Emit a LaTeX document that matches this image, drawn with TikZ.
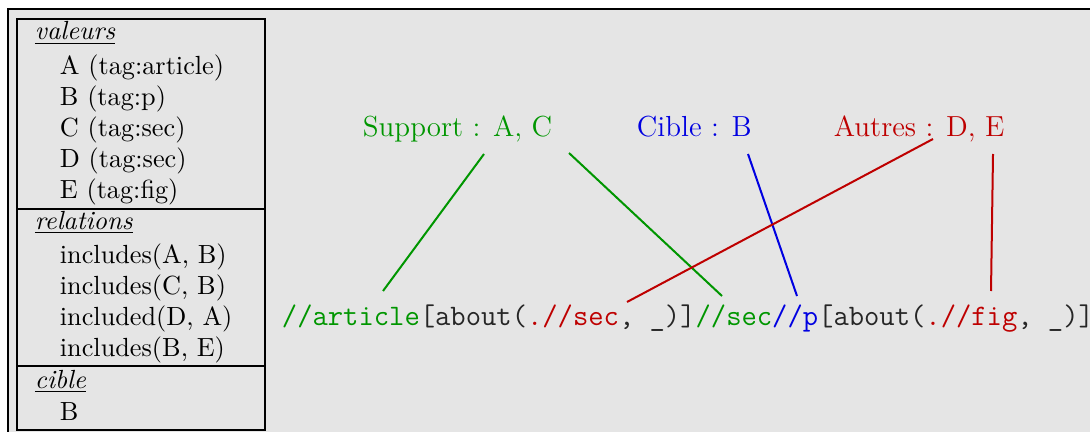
\documentclass[tikz,border=0pt]{standalone}
\usepackage{tikz}
\usetikzlibrary{positioning}
\definecolor{vert}{RGB}{0,150,0}
\definecolor{rouge}{RGB}{190,0,0}
\definecolor{bleu}{RGB}{0,0,225}
\tikzset{every picture/.style={line width=0.75pt}}

\begin{document}
\begin{tikzpicture}[x=0.4pt,y=-0.4pt,
    tete/.style={anchor=base west,inner sep=0pt,font=\fontsize{10.5}{12}\selectfont},
    item/.style={anchor=base west,inner sep=0pt,font=\fontsize{10.5}{12}\selectfont},
    etiq/.style={anchor=base west,inner sep=0pt,font=\fontsize{11.6}{14}\selectfont},
    code/.style={anchor=base west,inner sep=0pt,font=\fontsize{11.9}{14}\selectfont\ttfamily},
    lien/.style={line width=0.8pt}]
    \useasboundingbox (0,0) rectangle (1090,432);

    % fond et cadre
    \fill[black!10] (8,9) rectangle (1090,432);
    \draw[line width=0.5pt] (8,432) -- (8,9) -- (1090,9);

    % tableau de gauche
    \draw[line width=0.9pt] (17,19) rectangle (265,430);
    \draw[line width=0.9pt] (17,209) -- (265,209);
    \draw[line width=0.9pt] (17,366) -- (265,366);

    \node[tete] (hval) at (34,40) {\underline{\textit{valeurs}}};
    \foreach \t [count=\i] in {A (tag:article), B (tag:p), C (tag:sec), D (tag:sec), E (tag:fig)}
        \node[item] (val\i) at (59,{44+31*\i}) {\t};

    \node[tete] (hrel) at (34,229) {\underline{\textit{relations}}};
    \foreach \t [count=\i] in {{includes(A, B)}, {includes(C, B)}, {included(D, A)}, {includes(B, E)}}
        \node[item] (rel\i) at (59,{232+31*\i}) {\t};

    \node[tete] (hcib) at (34,388) {\underline{\textit{cible}}};
    \node[item] (cib1) at (59,420) {B};

    % etiquettes
    \node[etiq,vert] (support) at (362,137) {Support : A, C};
    \node[etiq,bleu] (cible) at (636,137) {Cible : B};
    \node[etiq,rouge] (autres) at (833,137) {Autres : D, E};

    % requete
    \node[code,black!85] (requete) at (281,325) {\textcolor{vert}{//article}[about(\textcolor{rouge}{.//sec}, \_)]\textcolor{vert}{//sec}\textcolor{bleu}{//p}[about(\textcolor{rouge}{.//fig}, \_)]};

    % extremites des liens
    \coordinate (supA) at (484,154);
    \coordinate (supC) at (569,153);
    \coordinate (cibB) at (748,154);
    \coordinate (autD) at (933,139);
    \coordinate (autE) at (993,154);
    \coordinate (qArt) at (383,291);
    \coordinate (qSec) at (722,296);
    \coordinate (qP) at (797,296);
    \coordinate (qSecD) at (627,302);
    \coordinate (qFig) at (991,291);

    \draw[lien,vert] (supA) -- (qArt);
    \draw[lien,vert] (supC) -- (qSec);
    \draw[lien,bleu] (cibB) -- (qP);
    \draw[lien,rouge] (autD) -- (qSecD);
    \draw[lien,rouge] (autE) -- (qFig);
\end{tikzpicture}
\end{document}
